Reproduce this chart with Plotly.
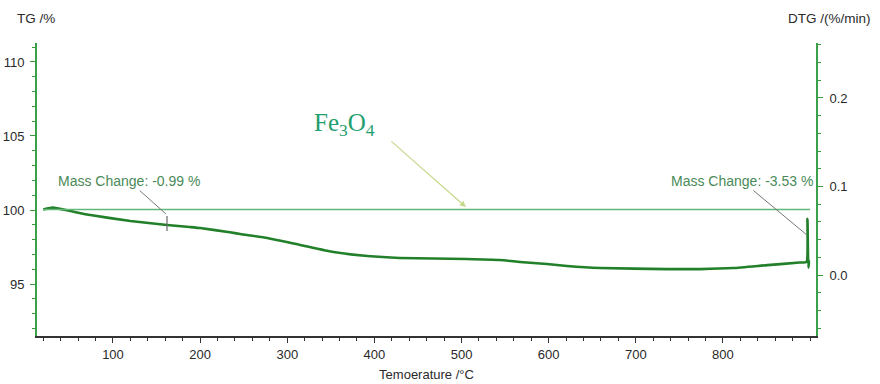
import plotly.graph_objects as go

# TG curve (temperature °C, TG %)
temp = [20, 31, 51, 74, 120, 162, 188, 200, 234, 246, 277, 315, 353, 392, 429,
        506, 544, 567, 598, 621, 659, 736, 774, 812, 851, 888, 896, 897, 898, 899, 900]
tg = [100.03, 100.16, 99.93, 99.66, 99.26, 98.99, 98.85, 98.78, 98.5, 98.38, 98.11,
      97.64, 97.16, 96.89, 96.76, 96.69, 96.62, 96.49, 96.35, 96.22, 96.08, 96.01,
      96.01, 96.08, 96.28, 96.45, 96.5, 99.4, 96.1, 96.5, 96.5]

# DTG curve (flat)
dtg_temp = [20, 900]
dtg = [0.074, 0.074]

# mass change marker
mc1_temp = [162, 162]
mc1_tg = [99.6, 98.58]

fig = go.Figure()
fig.add_trace(go.Scatter(x=dtg_temp, y=dtg, yaxis="y2", mode="lines",
                         line=dict(color="#62b878", width=1.3), showlegend=False))
fig.add_trace(go.Scatter(x=temp, y=tg, mode="lines",
                         line=dict(color="#23802a", width=2.6, shape="spline", smoothing=0.4),
                         showlegend=False))
fig.add_trace(go.Scatter(x=mc1_temp, y=mc1_tg, mode="lines",
                         line=dict(color="#6a6a6a", width=1.2), showlegend=False))

font = "Liberation Sans, Arial, sans-serif"
txtc = "#2a2a2a"

fig.update_layout(
    width=880, height=384,
    margin=dict(l=37, r=64, t=43, b=48),
    paper_bgcolor="white", plot_bgcolor="white",
    font=dict(family=font, size=13, color=txtc),
    xaxis=dict(range=[12.8, 906.8], tickvals=[100, 200, 300, 400, 500, 600, 700, 800],
               automargin=False,
               ticks="outside", ticklen=5, tickcolor="#333", showgrid=False, zeroline=False,
               showline=True, linecolor="#333", linewidth=1.5,
               minor=dict(dtick=20, tick0=0, ticks="outside", ticklen=3, tickcolor="#333"),
               ticklabelstandoff=1,
               title=dict(text="Temoerature /°C", standoff=9, font=dict(size=13, color=txtc))),
    yaxis=dict(range=[91.49, 111.28], tickvals=[95, 100, 105, 110], automargin=False,
               ticks="outside", ticklen=5, tickcolor="#3a9a3a", showgrid=False, zeroline=False,
               showline=True, linecolor="#3aa04a", linewidth=1.8,
               minor=dict(dtick=1, ticks="outside", ticklen=3, tickcolor="#3a9a3a"),
               ticklabelstandoff=3),
    yaxis2=dict(range=[-0.0689, 0.2621], tickvals=[0.0, 0.1, 0.2], tickformat=".1f",
                automargin=False,
                overlaying="y", side="right", anchor="x",
                ticks="outside", ticklen=5, tickcolor="#3a9a3a", showgrid=False, zeroline=False,
                showline=True, linecolor="#3aa04a", linewidth=1.8,
                minor=dict(dtick=0.02, tick0=0, ticks="outside", ticklen=3, tickcolor="#3a9a3a"),
                ticklabelstandoff=4),
)

fig.add_annotation(xref="paper", yref="paper", x=0, y=1.0, xshift=-22, yshift=25, xanchor="left",
                   yanchor="middle", text="TG /%", showarrow=False,
                   font=dict(family=font, size=13.5, color=txtc))
fig.add_annotation(xref="paper", yref="paper", x=1.0, y=1.0, xshift=57, yshift=25, xanchor="right",
                   yanchor="middle", text="DTG /(%/min)", showarrow=False,
                   font=dict(family=font, size=13.5, color=txtc))

fig.add_annotation(x=160.8, y=99.73, ax=118.4, ay=101.96, axref="x", ayref="y",
                   text="Mass Change: -0.99 %", showarrow=True, arrowhead=0,
                   arrowcolor="#777777", arrowwidth=1,
                   font=dict(family=font, size=14, color="#4a8a58"))
fig.add_annotation(x=896.4, y=98.31, ax=821.8, ay=101.96, axref="x", ayref="y",
                   text="Mass Change: -3.53 %", showarrow=True, arrowhead=0,
                   arrowcolor="#777777", arrowwidth=1,
                   font=dict(family=font, size=14, color="#4a8a58"))

fig.add_annotation(xref="x", yref="y", x=366, y=105.75, text="Fe<sub>3</sub>O<sub>4</sub>",
                   showarrow=False,
                   font=dict(family="Liberation Serif, Times New Roman, serif", size=25, color="#1f9e6e"))
fig.add_annotation(x=505, y=100.2, ax=-76, ay=-67, text="", showarrow=True, arrowhead=2,
                   arrowsize=1, arrowwidth=1.2, arrowcolor="#c5d98a")

fig.write_html("out.html")
